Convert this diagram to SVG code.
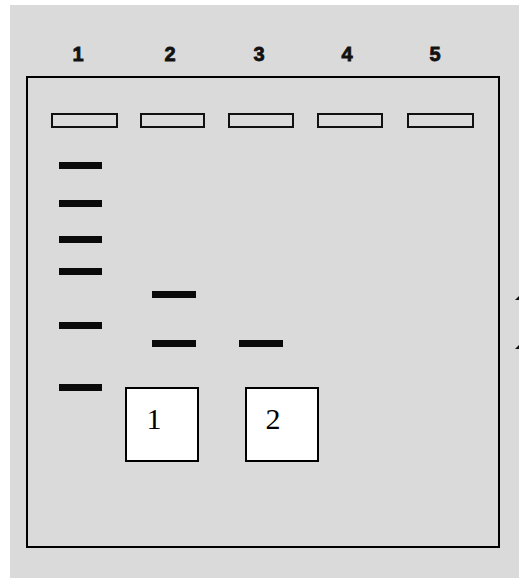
<svg xmlns="http://www.w3.org/2000/svg" width="519" height="578" viewBox="0 0 519 578">
<style>
.lbl{font-family:"Liberation Sans",Arial,sans-serif;font-weight:bold;font-size:20px;fill:#111;stroke:#111;stroke-width:0.8;text-anchor:middle}
.well{fill:#dcdcdc;stroke:#111;stroke-width:2}
.band{fill:#0a0a0a}
.box{fill:#fff;stroke:#000;stroke-width:2}
.num{font-family:"Liberation Serif","Times New Roman",serif;font-size:30px;fill:#000;text-anchor:middle}
</style>
<rect x="0" y="0" width="519" height="578" fill="#fff"/>
<rect x="10" y="5" width="509" height="573" fill="#dadada"/>
<g id="gel">
<rect x="27" y="77" width="472" height="470" fill="none" stroke="#000" stroke-width="2"/>
</g>
<g id="lane-labels">
<text class="lbl" x="78" y="61">1</text>
<text class="lbl" x="170" y="61">2</text>
<text class="lbl" x="259" y="61">3</text>
<text class="lbl" x="347" y="61">4</text>
<text class="lbl" x="435" y="61">5</text>
</g>
<g id="wells">
<rect class="well" x="52" y="114" width="65" height="13"/>
<rect class="well" x="141" y="114" width="63" height="13"/>
<rect class="well" x="229" y="114" width="64" height="13"/>
<rect class="well" x="318" y="114" width="64" height="13"/>
<rect class="well" x="408" y="114" width="65" height="13"/>
</g>
<g id="lane1-bands">
<rect class="band" x="59" y="162" width="43" height="7"/>
<rect class="band" x="59" y="200" width="43" height="7"/>
<rect class="band" x="59" y="236" width="43" height="7"/>
<rect class="band" x="59" y="268" width="43" height="7"/>
<rect class="band" x="59" y="322" width="43" height="7"/>
<rect class="band" x="59" y="384" width="43" height="7"/>
</g>
<g id="lane2-bands">
<rect class="band" x="152" y="291" width="44" height="7"/>
<rect class="band" x="152" y="340" width="44" height="7"/>
</g>
<g id="lane3-bands">
<rect class="band" x="239" y="340" width="44" height="7"/>
</g>
<g id="box1">
<rect class="box" x="126" y="388" width="72" height="73"/>
<text class="num" x="154" y="429">1</text>
</g>
<g id="box2">
<rect class="box" x="246" y="388" width="72" height="73"/>
<text class="num" x="273" y="429">2</text>
</g>
<g id="edge-marks">
<polygon points="515,300 519,296 519,300" fill="#111"/>
<polygon points="515,349 519,345 519,349" fill="#111"/>
</g>
</svg>
